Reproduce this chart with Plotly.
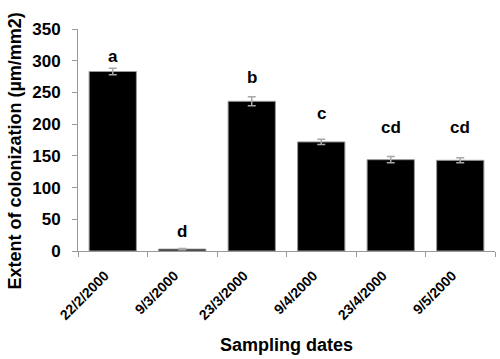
import plotly.graph_objects as go

dates = ["22/2/2000", "9/3/2000", "23/3/2000", "9/4/2000", "23/4/2000", "9/5/2000"]
colonization = [283, 3, 236, 172, 144, 143]
errors = [5, 1, 7, 4, 5, 4]
letters = ["a", "d", "b", "c", "cd", "cd"]
letter_y = [306, 30, 274, 216, 194, 194]
y_ticks = [0, 50, 100, 150, 200, 250, 300, 350]

FONT = "Liberation Sans, Arial, sans-serif"

fig = go.Figure()
fig.add_trace(go.Bar(
    x=dates, y=colonization,
    marker=dict(color="black", line=dict(color="#999999", width=1)),
    width=0.68,
    error_y=dict(type="data", array=errors, visible=True, color="#a8a8a8", thickness=1.5, width=4),
    showlegend=False,
))

for d, t, yy in zip(dates, letters, letter_y):
    fig.add_annotation(x=d, y=yy, text=t, showarrow=False,
                       font=dict(family=FONT, size=17, color="black", weight="bold"),
                       yanchor="middle")

fig.add_annotation(xref="paper", yref="paper", x=-0.15, y=0.45, textangle=-90,
                   text="Extent of colonization (µm/mm2)", showarrow=False,
                   xanchor="center", yanchor="middle",
                   font=dict(family=FONT, size=18, color="black", weight="bold"))
fig.add_annotation(xref="paper", yref="paper", x=0.5, y=-0.423,
                   text="Sampling dates", showarrow=False,
                   xanchor="center", yanchor="middle",
                   font=dict(family=FONT, size=18, color="black", weight="bold"))

fig.update_layout(
    width=500, height=359,
    margin=dict(l=78, r=5, t=29, b=108),
    paper_bgcolor="white", plot_bgcolor="white",
    font=dict(family=FONT, color="black"),
)
fig.update_xaxes(
    type="category", tickson="boundaries", ticks="outside", ticklen=5, tickcolor="#999999",
    showline=True, linecolor="#999999", linewidth=1, automargin=False,
    tickangle=-45, tickfont=dict(family=FONT, size=14, weight="bold"),
    ticklabelstandoff=10, ticklabelshift=-8,
    showgrid=False,
)
fig.update_yaxes(
    range=[0, 350], tickvals=y_ticks, ticks="outside", ticklen=5, tickcolor="#999999",
    showline=True, linecolor="#999999", linewidth=1, automargin=False,
    tickfont=dict(family=FONT, size=17, weight="bold"), ticklabelstandoff=8,
    showgrid=False, zeroline=False,
)

fig.write_html("out.html", config={"displayModeBar": False},
               post_script="document.body.style.margin='0';")
